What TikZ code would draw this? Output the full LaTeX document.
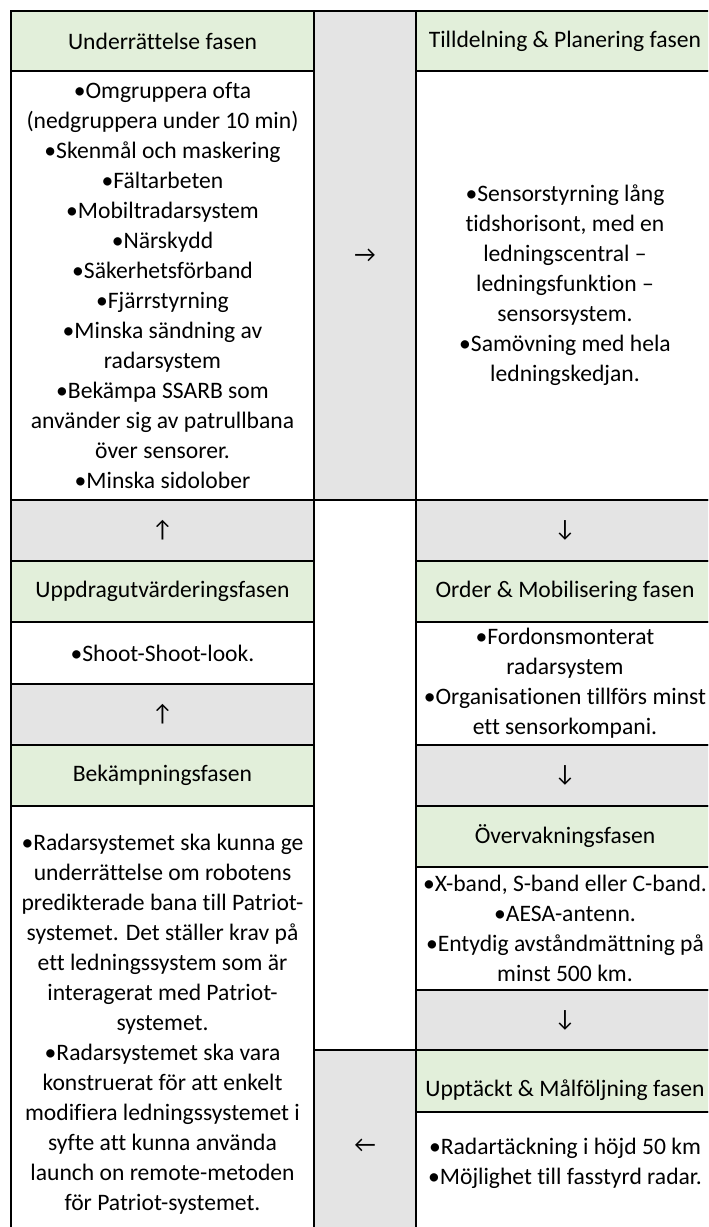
\documentclass[tikz,border=0pt]{standalone}
\usepackage{fontspec}
\setmainfont{Carlito}[Ligatures=NoCommon]
\usepackage{tikz}
\usetikzlibrary{positioning}
\definecolor{phaseGreen}{HTML}{E2EFDA}
\definecolor{arrowGray}{HTML}{E4E4E4}
\newcommand{\cellfont}{\fontsize{11.8pt}{15pt}\selectfont}

\begin{document}
\begin{tikzpicture}[x=0.5pt, y=-0.5pt, node distance=0pt]
        \tikzset{
           cell/.style={
                        rectangle,
                        draw=black,
                        line width=1.2pt,
                        inner sep=0pt,
                        outer sep=0pt,
                        align=center,
                        text=black,
                        font=\cellfont
                       },
           hdr/.style={cell, fill=phaseGreen},
           arr/.style={cell, fill=arrowGray},
           body/.style={cell, fill=white},
           txt/.style={inner sep=0pt, align=center, text=black, font=\cellfont},
           colA/.style={minimum width=151.5pt},
           colB/.style={minimum width=51pt},
           colC/.style={minimum width=149pt}
                 };
        \useasboundingbox (0,0) rectangle (708,1227);
        \clip (0,0) rectangle (708,1227);
    %--------------------
        \node[hdr, colA, minimum height=30pt, anchor=north west] (hdrA1) at (11,11) {Underrättelse fasen};
        \node[body, colA, minimum height=214.5pt] (bodyA1) [below=of hdrA1] {•Omgruppera ofta\\(nedgruppera under 10 min)\\•Skenmål och maskering\\•Fältarbeten\\•Mobiltradarsystem\\•Närskydd\\•Säkerhetsförband\\•Fjärrstyrning\\•Minska sändning av\\radarsystem\\•Bekämpa SSARB som\\använder sig av patrullbana\\över sensorer.\\•Minska sidolober};
        \node[arr, colA, minimum height=30.5pt] (arrA1) [below=of bodyA1] {↑};
        \node[hdr, colA, minimum height=30.5pt] (hdrA2) [below=of arrA1] {Uppdragutvärderingsfasen};
        \node[body, colA, minimum height=31pt] (bodyA2) [below=of hdrA2] {•Shoot-Shoot-look.};
        \node[arr, colA, minimum height=30.5pt] (arrA2) [below=of bodyA2] {↑};
        \node[hdr, colA, minimum height=30.5pt] (hdrA3) [below=of arrA2] {Bekämpningsfasen};
        \node[body, colA, minimum height=218pt] (bodyA3) [below=of hdrA3] {•Radarsystemet ska kunna ge\\underrättelse om robotens\\predikterade bana till Patriot-\\systemet. Det ställer krav på\\ett ledningssystem som är\\interagerat med Patriot-\\systemet.\\•Radarsystemet ska vara\\konstruerat för att enkelt\\modifiera ledningssystemet i\\syfte att kunna använda\\launch on remote-metoden\\för Patriot-systemet.};
    %--------------------
        \node[arr, colB, minimum height=244.5pt, anchor=north west] (arrB1) at (314,11) {→};
        \node[body, colB, minimum height=275pt] (emptyB) [below=of arrB1] {};
        \node[arr, colB, minimum height=96pt] (arrB2) [below=of emptyB] {←};
    %--------------------
        \node[hdr, colC, minimum height=30pt, anchor=north west] (hdrC1) at (416,11) {Tilldelning \& Planering fasen};
        \node[body, colC, minimum height=214.5pt] (bodyC1) [below=of hdrC1] {•Sensorstyrning lång\\tidshorisont, med en\\ledningscentral –\\ledningsfunktion –\\sensorsystem.\\•Samövning med hela\\ledningskedjan.};
        \node[arr, colC, minimum height=30.5pt] (arrC1) [below=of bodyC1] {↓};
        \node[hdr, colC, minimum height=30.5pt] (hdrC2) [below=of arrC1] {Order \& Mobilisering fasen};
        \node[body, colC, minimum height=61.5pt] (bodyC2) [below=of hdrC2] {•Fordonsmonterat\\radarsystem\\•Organisationen tillförs minst\\ett sensorkompani.};
        \node[arr, colC, minimum height=30.5pt] (arrC2) [below=of bodyC2] {↓};
        \node[hdr, colC, minimum height=30.5pt] (hdrC3) [below=of arrC2] {Övervakningsfasen};
        \node[body, colC, minimum height=61.5pt] (bodyC3) [below=of hdrC3] {•X-band, S-band eller C-band.\\•AESA-antenn.\\•Entydig avståndmättning på\\minst 500 km.};
        \node[arr, colC, minimum height=30pt] (arrC3) [below=of bodyC3] {↓};
        \node[hdr, colC, minimum height=31pt] (hdrC4) [below=of arrC3] {};
        \node[body, colC, minimum height=65pt] (bodyC4) [below=of hdrC4] {};
        % text sits low in the header and high in the last cell
        \node[txt] (hdrC4txt) at ([yshift=-4.5pt]hdrC4.center) {Upptäckt \& Målföljning fasen};
        \node[txt] (bodyC4txt) at ([yshift=7pt]bodyC4.center) {•Radartäckning i höjd 50 km\\•Möjlighet till fasstyrd radar.};
    \end{tikzpicture}
\end{document}
